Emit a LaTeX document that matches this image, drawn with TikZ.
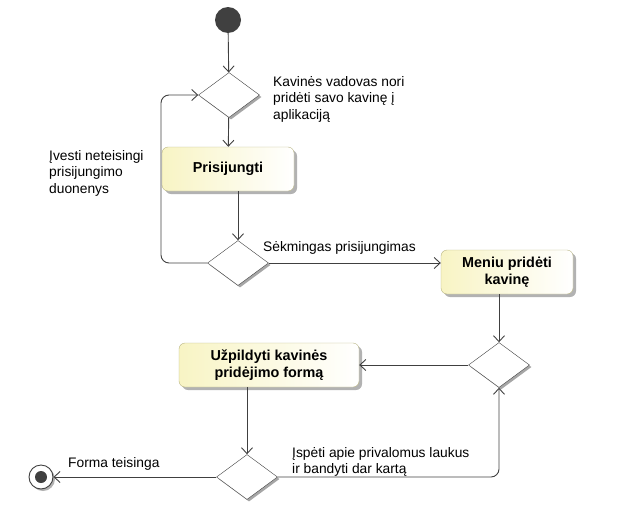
\documentclass[tikz,border=0pt]{standalone}
\usepackage{fontspec}
\setmainfont{Liberation Sans}
\usetikzlibrary{shapes.geometric, arrows.meta, shadows}

\definecolor{linegray}{HTML}{404040}
\definecolor{actfill}{HTML}{F8F4C4}
\definecolor{actborder}{HTML}{B8B483}

\tikzset{
    action/.style={rectangle, rounded corners=6pt, draw=actborder, left color=actfill, right color=white,
        minimum height=44pt, inner sep=2pt, align=center, font=\fontsize{14.4}{17}\selectfont\bfseries,
        drop shadow={shadow xshift=3pt, shadow yshift=-3pt, fill=black!30, opacity=1}},
    choice/.style={diamond, draw=linegray, fill=white, minimum width=61pt, minimum height=45pt, inner sep=0pt,
        drop shadow={shadow xshift=2pt, shadow yshift=-2pt, fill=black!35, opacity=1}},
    flow/.style={draw=linegray, line width=0.9pt, -{Straight Barb[length=6pt, width=11pt]}},
    guard/.style={font=\fontsize{13.8}{16.5}\selectfont, align=left, inner sep=0pt}
}

\begin{document}
\begin{tikzpicture}[x=1pt, y=-1pt]
    \useasboundingbox (0,0) rectangle (620,530);

    % Draw nodes
    \node[circle, fill=linegray, minimum size=26pt, inner sep=0pt] (start) at (228,20) {};
    \node[choice] (d1) at (229,95) {};
    \node[action, minimum width=132pt] (prisijungti) at (228,169) {Prisijungti};
    \node[choice] (d2) at (238,263) {};
    \node[action, minimum width=132pt] (meniu) at (507,272) {Meniu pridėti\\kavinę};
    \node[choice] (d3) at (499,365) {};
    \node[action, minimum width=180pt] (uzpildyti) at (269,365) {Užpildyti kavinės\\pridėjimo formą};
    \node[choice] (d4) at (247,477) {};
    \node[circle, draw=linegray, fill=white, line width=0.9pt, minimum size=24pt, inner sep=0pt,
        drop shadow={shadow xshift=2pt, shadow yshift=-2pt, fill=black!30, opacity=1}] (end) at (41,477) {};
    \node[circle, fill=linegray, minimum size=12pt, inner sep=0pt] at (end) {};
    \coordinate (loop) at (161,180);

    % Draw connections
    \draw[flow] (start) -- (d1);
    \draw[flow] (d1) -- (prisijungti);
    \draw[flow] (prisijungti.south -| d2) -- (d2);
    \draw[flow, rounded corners=8pt] (d2.west) -| (loop) |- (d1.west);
    \draw[flow] (d2.east) -- (d2.east -| meniu.west);
    \draw[flow] (meniu.south -| d3) -- (d3);
    \draw[flow] (d3.west) -- (uzpildyti.east);
    \draw[flow] (uzpildyti.south -| d4) -- (d4);
    \draw[flow] (d4.west) -- (end);
    \draw[flow, rounded corners=8pt] (d4.east) -| (d3.south);

    % Labels
    \node[guard, anchor=west] (l1) at (273,99) {Kavinės vadovas nori\\pridėti savo kavinę į\\aplikaciją};
    \node[guard, anchor=west] (l2) at (49,173) {Įvesti neteisingi\\prisijungimo\\duonenys};
    \node[guard, anchor=west] (l3) at (263,248) {Sėkmingas prisijungimas};
    \node[guard, anchor=west] (l4) at (68,464) {Forma teisinga};
    \node[guard, anchor=west] (l5) at (292,462) {Įspėti apie privalomus laukus\\ir bandyti dar kartą};
\end{tikzpicture}
\end{document}
